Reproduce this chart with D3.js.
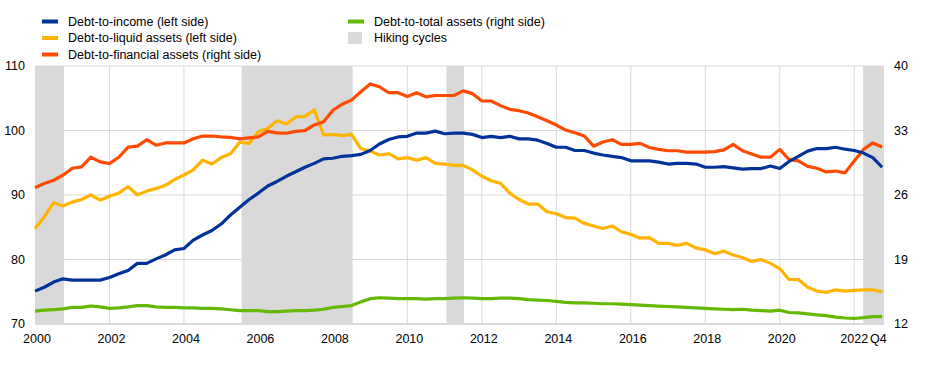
<!DOCTYPE html>
<html><head><meta charset="utf-8">
<script src="https://cdn.jsdelivr.net/npm/d3@7"></script>
<style>body{margin:0;background:#fff}svg{display:block;font-family:"Liberation Sans",Arial,sans-serif}</style>
</head><body><svg id="c" width="927" height="371"></svg>
<script>
// Quarterly data, 2000 Q1 .. 2022 Q4
const startYear = 2000;
const debtToIncome = [75.1,75.7,76.5,77.0,76.8,76.8,76.8,76.8,77.2,77.8,78.3,79.4,79.4,80.1,80.7,81.5,
81.7,83.0,83.8,84.5,85.5,86.9,88.1,89.3,90.3,91.4,92.1,92.9,93.6,94.3,94.9,95.6,
95.7,96.0,96.1,96.3,96.9,97.9,98.6,99.0,99.1,99.6,99.6,99.9,99.5,99.6,99.6,99.4,
98.9,99.1,98.9,99.1,98.7,98.7,98.5,98.0,97.4,97.4,96.9,96.9,96.5,96.2,96.0,95.8,
95.3,95.3,95.3,95.1,94.8,94.9,94.9,94.8,94.3,94.3,94.4,94.2,94.0,94.1,94.1,94.5,
94.1,95.2,96.0,96.8,97.2,97.2,97.4,97.1,96.9,96.5,95.8,94.3];
const debtToLiquid = [84.8,86.6,88.8,88.3,88.9,89.3,90.0,89.2,89.8,90.3,91.3,90.0,90.6,91.0,91.5,92.4,
93.1,93.9,95.4,94.8,95.8,96.4,98.2,98.0,99.8,100.3,101.5,101.0,102.1,102.2,103.2,99.3,
99.4,99.2,99.4,97.2,96.8,96.2,96.4,95.6,95.8,95.4,95.8,94.9,94.8,94.6,94.6,93.9,
92.9,92.2,91.8,90.3,89.3,88.6,88.6,87.4,87.1,86.5,86.4,85.6,85.2,84.8,85.2,84.3,
83.9,83.3,83.4,82.5,82.5,82.2,82.5,81.8,81.5,80.9,81.3,80.7,80.3,79.7,80.0,79.4,
78.6,76.9,76.9,75.7,75.1,74.9,75.3,75.1,75.2,75.3,75.3,75.0];
const debtToFinancial = [26.8,27.25,27.6,28.15,28.9,29.05,30.1,29.6,29.4,30.1,31.2,31.3,32.0,31.4,31.65,31.65,
31.65,32.1,32.4,32.4,32.3,32.25,32.1,32.2,32.3,32.9,32.75,32.7,32.9,33.0,33.6,33.95,
35.2,35.85,36.3,37.2,38.05,37.75,37.1,37.1,36.7,37.1,36.65,36.8,36.8,36.8,37.3,37.0,
36.2,36.2,35.7,35.3,35.15,34.9,34.5,34.05,33.6,33.05,32.75,32.4,31.3,31.75,32.0,31.5,
31.5,31.6,31.15,30.95,30.8,30.8,30.65,30.65,30.65,30.7,30.9,31.5,30.8,30.45,30.1,30.1,
30.95,29.85,29.7,29.1,28.9,28.5,28.6,28.4,29.7,30.95,31.65,31.2];
const debtToTotal = [13.4,13.5,13.55,13.65,13.8,13.8,13.95,13.85,13.7,13.75,13.85,14.0,14.0,13.85,13.8,13.8,
13.75,13.75,13.7,13.7,13.65,13.55,13.45,13.45,13.45,13.35,13.35,13.4,13.45,13.45,13.5,13.6,
13.8,13.9,14.0,14.4,14.75,14.85,14.8,14.75,14.75,14.75,14.7,14.75,14.75,14.8,14.85,14.8,
14.75,14.75,14.8,14.8,14.75,14.65,14.6,14.55,14.45,14.35,14.3,14.3,14.25,14.2,14.2,14.15,
14.1,14.05,14.0,13.95,13.9,13.85,13.8,13.75,13.7,13.65,13.6,13.55,13.6,13.5,13.45,13.4,
13.5,13.25,13.2,13.1,13.0,12.9,12.75,12.65,12.6,12.7,12.8,12.8];
const hikingCycles = [[2000.0, 2000.78],[2005.55, 2008.53],[2011.05, 2011.52],[2022.24, 2022.8]];
const leftTicks = [70, 80, 90, 100, 110];
const rightTicks = [12, 19, 26, 33, 40];
const xTickYears = [2000,2002,2004,2006,2008,2010,2012,2014,2016,2018,2020,2022];
const seriesNames = ["Debt-to-income (left side)","Debt-to-liquid assets (left side)","Debt-to-financial assets (right side)","Debt-to-total assets (right side)"];
const seriesColors = ["#003299","#FFB400","#FF4B00","#65B800"];

const svg = d3.select("#c");
const L = 35, R = 884, T = 66, B = 324;
const x = d3.scaleLinear().domain([2000, 2022.8]).range([L, R]);
const yL = d3.scaleLinear().domain([70, 110]).range([B, T]);
const yR = d3.scaleLinear().domain([12, 40]).range([B, T]);
const grid = "#d9d9d9";

// hiking bands
svg.append("g").selectAll("rect").data(hikingCycles).join("rect")
  .attr("x", d => x(d[0])).attr("width", d => x(d[1]) - x(d[0]))
  .attr("y", T).attr("height", B - T).attr("fill", "#d9d9d9");

// gridlines
svg.append("g").selectAll("line").data(leftTicks).join("line")
  .attr("x1", L).attr("x2", R).attr("y1", d => yL(d)).attr("y2", d => yL(d))
  .attr("stroke", grid).attr("stroke-width", d => d === 70 ? 2 : 1);
svg.append("g").selectAll("line").data(xTickYears.slice(1)).join("line")
  .attr("x1", d => x(d)).attr("x2", d => x(d)).attr("y1", T).attr("y2", B)
  .attr("stroke", grid).attr("stroke-width", 1);

// axis labels
svg.append("g").selectAll("text").data(leftTicks).join("text")
  .attr("x", 25).attr("y", d => yL(d)).attr("dy", "0.35em").attr("text-anchor", "end")
  .attr("font-size", 12.5).text(d => d);
svg.append("g").selectAll("text").data(rightTicks).join("text")
  .attr("x", 894).attr("y", d => yR(d)).attr("dy", "0.35em").attr("text-anchor", "start")
  .attr("font-size", 12.5).text(d => d);
svg.append("g").selectAll("text").data(xTickYears).join("text")
  .attr("x", d => x(d) + (d === 2022 ? 0 : 2)).attr("y", 343).attr("text-anchor", "middle")
  .attr("font-size", 12.5).text(d => d);
svg.append("text").attr("x", 870).attr("y", 343).attr("text-anchor", "start")
  .attr("font-size", 12.5).text("Q4");

// lines
const xq = (d, i) => x(startYear + i / 4);
const lineL = d3.line().x(xq).y(d => yL(d));
const lineR = d3.line().x(xq).y(d => yR(d));
const drawOrder = [
  {data: debtToTotal, gen: lineR, color: seriesColors[3]},
  {data: debtToLiquid, gen: lineL, color: seriesColors[1]},
  {data: debtToFinancial, gen: lineR, color: seriesColors[2]},
  {data: debtToIncome, gen: lineL, color: seriesColors[0]}
];
drawOrder.forEach(s => {
  svg.append("path").attr("d", s.gen(s.data)).attr("fill", "none")
    .attr("stroke", s.color).attr("stroke-width", 3.2).attr("stroke-linejoin", "round");
});

// legend
const leg = [
  {name: seriesNames[0], color: seriesColors[0], x: 42, y: 21.5, type: "line"},
  {name: seriesNames[1], color: seriesColors[1], x: 42, y: 38, type: "line"},
  {name: seriesNames[2], color: seriesColors[2], x: 42, y: 54.5, type: "line"},
  {name: seriesNames[3], color: seriesColors[3], x: 348, y: 21.5, type: "line"},
  {name: "Hiking cycles", color: "#d9d9d9", x: 348, y: 38, type: "rect"}
];
const lg = svg.append("g");
leg.forEach(d => {
  if (d.type === "line") {
    lg.append("line").attr("x1", d.x).attr("x2", d.x + 16).attr("y1", d.y).attr("y2", d.y)
      .attr("stroke", d.color).attr("stroke-width", 4);
  } else {
    lg.append("rect").attr("x", d.x).attr("y", d.y - 6).attr("width", 14).attr("height", 12).attr("fill", d.color);
  }
  lg.append("text").attr("x", d.x + 26).attr("y", d.y).attr("dy", "0.35em")
    .attr("font-size", 12.5).text(d.name);
});
</script></body></html>
